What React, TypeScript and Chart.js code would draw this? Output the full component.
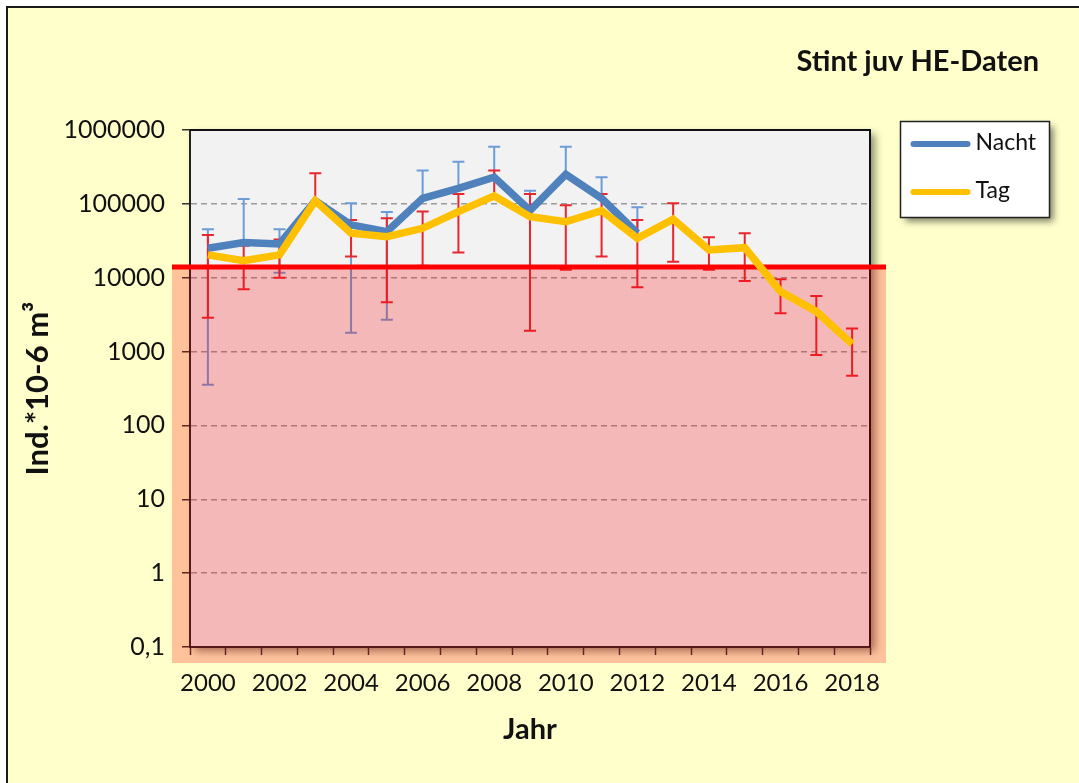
import React, { useEffect, useRef } from "react";
import { Chart, registerables } from "chart.js";

Chart.register(...registerables);

const years = [
  "2000", "2001", "2002", "2003", "2004", "2005", "2006", "2007", "2008", "2009",
  "2010", "2011", "2012", "2013", "2014", "2015", "2016", "2017", "2018",
];

const nacht = [
  25000, 30000, 28600, 110000, 52000, 42000, 119000, 162000, 229000, 81000,
  251000, 119000, 40000, null, null, null, null, null, null,
];
const tag = [
  20400, 17000, 20400, 110000, 40000, 36000, 46700, 78500, 128000, 67000,
  57300, 81000, 34200, 62000, 23800, 25500, 6500, 3500, 1270,
];

const nachtHigh = [
  45300, 116000, 45300, null, 102000, 77600, 282000, 373000, 594000, 151000,
  594000, 229000, 90000, null, null, null, null, null, null,
];
const nachtLow = [
  355, null, 11700, null, 1800, 2690, null, null, null, null,
  null, null, null, null, null, null, null, null, null,
];
const tagHigh = [
  38000, 27000, 33000, 260000, 60500, 63800, 78500, 136000, 282000, 136000,
  95800, 136000, 60500, 102000, 35300, 40000, 9500, 5670, 2050,
];
const tagLow = [
  2880, 7000, 10000, null, 19300, 4660, 14500, 21900, null, 1920,
  12800, 19300, 7400, 16500, 12800, 9060, 3300, 900, 469,
];

const yTicks = [0.1, 1, 10, 100, 1000, 10000, 100000, 1000000];
const yTickLabels = ["0,1", "1", "10", "100", "1000", "10000", "100000", "1000000"];
const threshold = 14000;

const titleText = "Stint juv HE-Daten";
const yTitle = "Ind.*10-6 m³";
const xTitle = "Jahr";
const seriesNames = ["Nacht", "Tag"];

const FONT = "Lato, 'Open Sans', sans-serif";

const errorSets = [
  { high: nachtHigh, low: nachtLow, color: "#6C9DD8", dataset: 0 },
  { high: tagHigh, low: tagLow, color: "#E8262E", dataset: 1 },
];

const decor = {
  id: "decor",
  beforeDraw(chart: any) {
    const { ctx, width, height, chartArea: a } = chart;
    ctx.save();
    ctx.fillStyle = "#ffffff";
    ctx.fillRect(0, 0, width, height);
    ctx.fillStyle = "#FFFFCC";
    ctx.fillRect(7, 7, width + 20, height + 20);
    ctx.strokeStyle = "#1a1a1a";
    ctx.lineWidth = 2;
    ctx.strokeRect(7, 7, width + 20, height + 20);
    ctx.restore();

    ctx.save();
    ctx.shadowColor = "rgba(0,0,0,0.45)";
    ctx.shadowBlur = 8;
    ctx.shadowOffsetX = 5;
    ctx.shadowOffsetY = 4;
    ctx.fillStyle = "#F2F2F2";
    ctx.fillRect(a.left, a.top, a.right - a.left, a.bottom - a.top);
    ctx.restore();

    ctx.save();
    ctx.fillStyle = "#111111";
    ctx.font = `bold 29px ${FONT}`;
    ctx.textAlign = "right";
    ctx.textBaseline = "middle";
    ctx.fillText(titleText, a.right + 169, a.top - 68);
    ctx.restore();
  },
  beforeDatasetsDraw(chart: any) {
    const { ctx, chartArea: a, scales } = chart;
    const xs = scales.x;
    const ys = scales.y;

    ctx.save();
    ctx.strokeStyle = "#111111";
    ctx.lineWidth = 2;
    ctx.beginPath();
    ctx.moveTo(a.left, a.top);
    ctx.lineTo(a.right, a.top);
    ctx.lineTo(a.right, a.bottom);
    ctx.stroke();
    ctx.restore();

    // error bars
    ctx.save();
    ctx.lineWidth = 2;
    errorSets.forEach((es) => {
      const values = chart.data.datasets[es.dataset].data as (number | null)[];
      ctx.strokeStyle = es.color;
      values.forEach((v, i) => {
        if (v == null) return;
        const x = xs.getPixelForValue(i);
        const ym = ys.getPixelForValue(v);
        [es.high[i], es.low[i]].forEach((e) => {
          if (e == null) return;
          const ye = ys.getPixelForValue(e);
          ctx.beginPath();
          ctx.moveTo(x, ym);
          ctx.lineTo(x, ye);
          ctx.moveTo(x - 6, ye);
          ctx.lineTo(x + 6, ye);
          ctx.stroke();
        });
      });
    });
    ctx.restore();

    // critical zone overlay
    const yT = ys.getPixelForValue(threshold);
    ctx.save();
    ctx.fillStyle = "rgba(255,0,0,0.24)";
    ctx.fillRect(a.left - 18, yT, a.right - a.left + 34, a.bottom + 16 - yT);
    ctx.strokeStyle = "#FF0000";
    ctx.lineWidth = 5;
    ctx.beginPath();
    ctx.moveTo(a.left - 18, yT);
    ctx.lineTo(a.right + 16, yT);
    ctx.stroke();
    ctx.restore();
  },
  afterDraw(chart: any) {
    const { ctx, chartArea: a } = chart;
    const bx = a.right + 30.5;
    const by = a.top - 8.5;
    const bw = 149;
    const bh = 96;
    ctx.save();
    ctx.shadowColor = "rgba(0,0,0,0.5)";
    ctx.shadowBlur = 7;
    ctx.shadowOffsetX = 4;
    ctx.shadowOffsetY = 4;
    ctx.fillStyle = "#ffffff";
    ctx.fillRect(bx, by, bw, bh);
    ctx.restore();
    ctx.save();
    ctx.strokeStyle = "#222222";
    ctx.lineWidth = 1.5;
    ctx.strokeRect(bx, by, bw, bh);
    chart.data.datasets.forEach((ds: any, i: number) => {
      const ly = by + 22.5 + i * 48;
      ctx.strokeStyle = ds.borderColor;
      ctx.lineWidth = 6;
      ctx.lineCap = "round";
      ctx.beginPath();
      ctx.moveTo(bx + 13, ly);
      ctx.lineTo(bx + 67, ly);
      ctx.stroke();
      ctx.fillStyle = "#111111";
      ctx.font = `23px ${FONT}`;
      ctx.textAlign = "left";
      ctx.textBaseline = "middle";
      ctx.fillText(ds.label, bx + 75, ly - 1);
    });
    ctx.restore();
  },
};

function sameVal(a: number, b: number) {
  return Math.abs(Math.log10(a) - Math.log10(b)) < 1e-6;
}

export default function App() {
  const ref = useRef<HTMLCanvasElement | null>(null);

  useEffect(() => {
    document.body.style.margin = "0";
    document.body.style.background = "#ffffff";
    let chart: Chart | null = null;
    let cancelled = false;

    const build = () => {
      if (cancelled || !ref.current) return;
      chart = new Chart(ref.current, {
        type: "line",
        data: {
          labels: years,
          datasets: [
            {
              label: seriesNames[0],
              data: nacht,
              borderColor: "#4F81BD",
              backgroundColor: "#4F81BD",
              borderWidth: 7.5,
              pointRadius: 0,
              tension: 0,
              spanGaps: false,
              order: 1,
            },
            {
              label: seriesNames[1],
              data: tag,
              borderColor: "#FFC000",
              backgroundColor: "#FFC000",
              borderWidth: 7.5,
              pointRadius: 0,
              tension: 0,
              order: 0,
            },
          ],
        },
        options: {
          responsive: false,
          animation: false,
          layout: { padding: { top: 130, right: 209, bottom: 0, left: 0 } },
          plugins: {
            legend: { display: false },
            title: { display: false },
            tooltip: { enabled: false },
          },
          scales: {
            x: {
              type: "category",
              offset: true,
              afterFit: (s: any) => {
                s.height = 136;
              },
              grid: {
                offset: true,
                drawOnChartArea: false,
                tickLength: 8,
                tickColor: "#333333",
                tickWidth: 1.5,
                color: "#333333",
              },
              border: { color: "#222222", width: 2 },
              ticks: {
                autoSkip: false,
                maxRotation: 0,
                minRotation: 0,
                callback: (_v: any, i: number) => (i % 2 === 0 ? years[i] : ""),
                font: { family: FONT, size: 24 },
                color: "#111111",
                padding: 14,
              },
              title: {
                display: true,
                text: xTitle,
                font: { family: FONT, size: 29, weight: "bold" },
                color: "#111111",
                padding: { top: 0, bottom: 36 },
              },
            },
            y: {
              type: "logarithmic",
              min: 0.1,
              max: 1000000,
              afterBuildTicks: (s: any) => {
                s.ticks = yTicks.map((v) => ({ value: v }));
              },
              afterFit: (s: any) => {
                s.width = 190;
              },
              ticks: {
                autoSkip: false,
                callback: (v: any) => {
                  const idx = yTicks.findIndex((t) => sameVal(t, Number(v)));
                  return idx >= 0 ? yTickLabels[idx] : "";
                },
                font: { family: FONT, size: 25 },
                color: "#111111",
                padding: 17,
              },
              grid: {
                color: (c: any) =>
                  c.tick && (sameVal(c.tick.value, 0.1) || sameVal(c.tick.value, 1000000))
                    ? "rgba(0,0,0,0)"
                    : "#9A9A9A",
                lineWidth: 1.5,
                tickLength: 8,
                tickColor: "#333333",
                tickWidth: 1.5,
              },
              border: { color: "#222222", width: 2, dash: [6, 4] },
              title: {
                display: true,
                text: yTitle,
                font: { family: FONT, size: 31, weight: "bold" },
                color: "#111111",
                padding: { top: 19, bottom: 0 },
              },
            },
          },
        },
        plugins: [decor],
      } as any);
    };

    const fonts: any = (document as any).fonts;
    if (fonts && fonts.load) {
      Promise.all([
        fonts.load(`bold 29px Lato`),
        fonts.load(`25px Lato`),
      ])
        .catch(() => {})
        .then(build);
    } else {
      build();
    }

    return () => {
      cancelled = true;
      if (chart) chart.destroy();
    };
  }, []);

  return (
    <div style={{ width: 1079, height: 783 }}>
      <canvas ref={ref} width={1079} height={783} style={{ display: "block" }} />
    </div>
  );
}
